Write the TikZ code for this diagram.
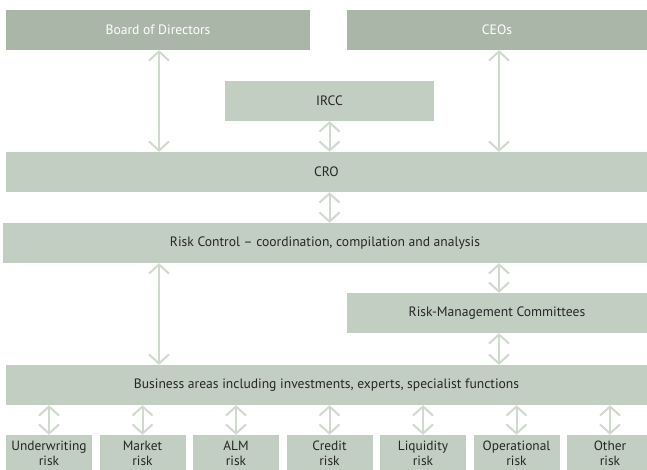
\documentclass[tikz,border=0pt]{standalone}
\usepackage{fontspec}
\setmainfont{PT Sans}
\usepackage{tikz}
\usetikzlibrary{arrows.meta}

\definecolor{boxdark}{HTML}{AAB6A8}
\definecolor{boxlight}{HTML}{C3CEC2}
\definecolor{arrowgrey}{HTML}{D0D9CE}

\begin{document}
\begin{tikzpicture}[x=1pt, y=-1pt,
    box/.style={fill=boxlight, text=black!85, minimum height=40pt, inner sep=0pt,
      font=\fontsize{13.6}{15}\selectfont},
    topbox/.style={box, fill=boxdark, text=white},
    riskbox/.style={box, minimum width=86pt, minimum height=36pt, align=center,
      text depth=0pt, font=\fontsize{13.4}{15}\selectfont},
    link/.style={<->, >={Straight Barb[length=9pt, width=20pt]}, line width=2pt, draw=arrowgrey}]
  \useasboundingbox (0,0) rectangle (647,470);

  % upper levels
  \node[topbox, minimum width=304pt] (board) at (158,30) {Board of Directors};
  \node[topbox, minimum width=300pt] (ceos) at (497,30) {CEOs};
  \node[box, minimum width=209pt] (ircc) at (329.5,101) {IRCC};
  \node[box, minimum width=641pt] (cro) at (326.5,172) {CRO};
  \node[box, minimum width=644pt] (ctrl) at (325,243) {Risk Control -- coordination, compilation and analysis};
  \node[box, minimum width=300pt] (rmc) at (497,313) {Risk-Management Committees};
  \node[box, minimum width=641pt] (biz) at (326.5,385) {Business areas including investments, experts, specialist functions};

  % connections between levels
  \draw[link] (board.south -| 159,0) -- (cro.north -| 159,0);
  \draw[link] (ceos.south -| 499,0) -- (cro.north -| 499,0);
  \draw[link] (ircc.south) -- (cro.north -| ircc.south);
  \draw[link] (cro.south -| ircc.south) -- (ctrl.north -| ircc.south);
  \draw[link] (ctrl.south -| 159,0) -- (biz.north -| 159,0);
  \draw[link] (ctrl.south -| 499,0) -- (rmc.north -| 499,0);
  \draw[link] (rmc.south -| 499,0) -- (biz.north -| 499,0);

  % risk categories
  \foreach \r [count=\i] in {Underwriting, Market, ALM, Credit, Liquidity, Operational, Other} {
    \node[riskbox] (risk\i) at ({49+93.5*(\i-1)},453) {\r\\risk};
    \draw[link] (biz.south -| risk\i.north) -- (risk\i.north);
  }

\end{tikzpicture}
\end{document}
